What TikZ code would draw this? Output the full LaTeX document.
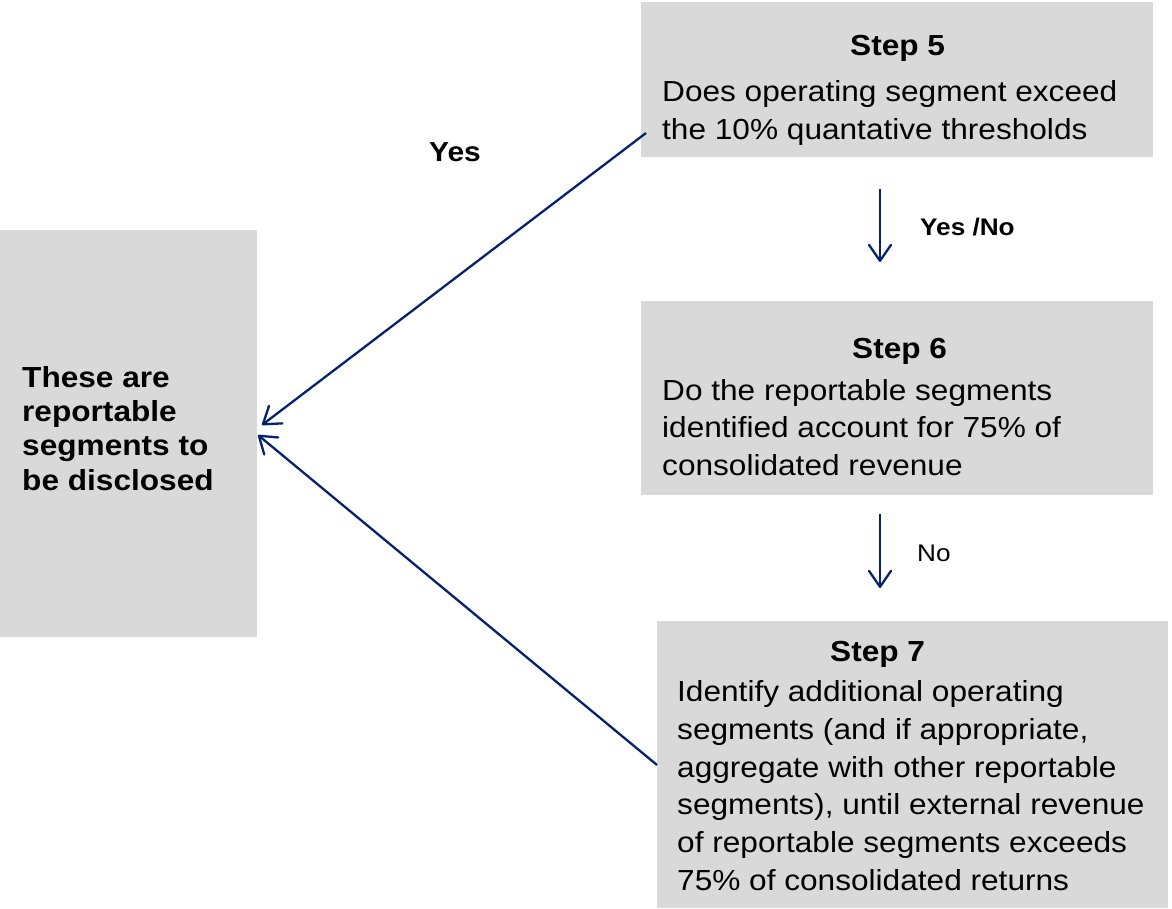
\documentclass[tikz,border=0pt]{standalone}
\usepackage{fontspec}
\setmainfont{Liberation Sans}[FakeStretch=1.09]
\usetikzlibrary{arrows.meta}
\definecolor{boxgray}{HTML}{D9D9D9}
\definecolor{arrownavy}{HTML}{06226E}
\newcommand\bodysize{\fontsize{29}{37.7}\selectfont}
\newcommand\leftsize{\fontsize{29}{34.4}\selectfont\bfseries}
\newcommand\lines[1]{\begin{tabular}[t]{@{}l@{}}#1\end{tabular}}
\begin{document}
\begin{tikzpicture}[x=1pt,y=-1pt,
  graybox/.style={fill=boxgray, draw=none, anchor=north west, inner sep=0pt, rectangle},
  txt/.style={anchor=base west, inner sep=0pt, text=black},
  conn/.style={draw=arrownavy, line width=2.3pt, -{Straight Barb[length=16pt,width=22pt,line cap=round,line join=round]}}]
\useasboundingbox (0,0) rectangle (1172,908);
% boxes
\node[graybox, minimum width=257pt, minimum height=407pt] (left) at (0,230) {};
\node[graybox, minimum width=512pt, minimum height=155pt] (s5) at (641,2) {};
\node[graybox, minimum width=512pt, minimum height=194pt] (s6) at (641,301) {};
\node[graybox, minimum width=511pt, minimum height=287pt] (s7) at (657,621) {};
% texts
\node[txt, font=\leftsize] (lefttext) at (22,387) {\lines{These are\\reportable\\segments to\\be disclosed}};
\node[txt, font=\bodysize\bfseries] (s5title) at (850,55) {Step 5};
\node[txt, font=\bodysize] (s5body) at (662,101.7) {\lines{Does operating segment exceed\\the 10\% quantative thresholds}};
\node[txt, font=\bodysize\bfseries] (s6title) at (852,358) {Step 6};
\node[txt, font=\bodysize] (s6body) at (662,400) {\lines{Do the reportable segments\\identified account for 75\% of\\consolidated revenue}};
\node[txt, font=\bodysize\bfseries] (s7title) at (830,661.7) {Step 7};
\node[txt, font=\bodysize] (s7body) at (677,701.7) {\lines{Identify additional operating\\segments (and if appropriate,\\aggregate with other reportable\\segments), until external revenue\\of reportable segments exceeds\\75\% of consolidated returns}};
\node[txt, font=\fontsize{27.5}{30}\selectfont\bfseries] (yes) at (429,161) {Yes};
\node[txt, font=\fontsize{24}{30}\selectfont\bfseries] (yesno) at (920,235) {Yes /No};
\node[txt, font=\fontsize{24}{30}\selectfont] (no) at (917,561.7) {No};
% connector endpoints
\coordinate (a1s) at (646,133);
\coordinate (a1e) at (262,425);
\coordinate (a2s) at (657,765);
\coordinate (a2e) at (258,435);
\coordinate (d1s) at (880,189);
\coordinate (d1e) at (880,262);
\coordinate (d2s) at (880,514);
\coordinate (d2e) at (880,588);
\draw[conn] (a1s) -- (a1e);
\draw[conn] (a2s) -- (a2e);
\draw[conn] (d1s) -- (d1e);
\draw[conn] (d2s) -- (d2e);
\end{tikzpicture}
\end{document}
